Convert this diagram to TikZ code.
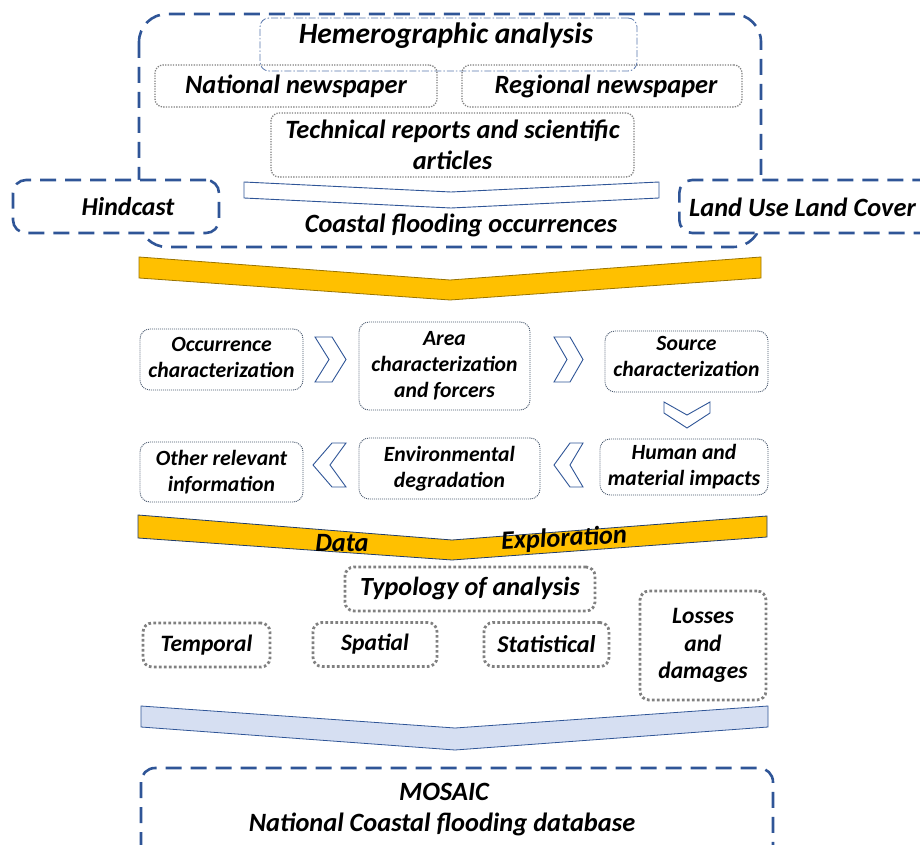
\documentclass[tikz,border=0pt]{standalone}
\usepackage{fontspec}
\setmainfont{Carlito}
\definecolor{dblue}{HTML}{2F5597}
\definecolor{gold}{HTML}{FFC000}
\definecolor{lblue}{HTML}{D6DFF2}
\definecolor{bgray}{HTML}{44546A}
\newcommand{\fsz}[2]{\fontsize{#1}{#2}\selectfont\bfseries\itshape}
\begin{document}
\begin{tikzpicture}[x=1pt,y=-1pt,
  dashbox/.style={draw=dblue, line width=2.6pt, dash pattern=on 16pt off 9pt, rounded corners=13pt, fill=white, inner sep=0pt},
  hemebox/.style={draw=dblue!80, line width=0.8pt, dash pattern=on 7pt off 2pt on 1.5pt off 2pt, rounded corners=9pt, inner sep=0pt},
  newsbox/.style={draw=gray, line width=1.3pt, dash pattern=on 1.3pt off 1.3pt, rounded corners=8pt, inner sep=0pt},
  stepbox/.style={draw=bgray, line width=0.9pt, dash pattern=on 1pt off 1pt, rounded corners=10pt, inner sep=0pt, align=center, font=\fsz{21.7}{26}},
  typbox/.style={draw=gray, line width=2.8pt, dash pattern=on 2.6pt off 2.4pt, rounded corners=9pt, inner sep=0pt, font=\fsz{23.5}{27.5}},
  chev/.style={draw=dblue, line width=0.9pt, fill=white, line join=miter},
  band/.style={draw=dblue!70!black, line width=0.8pt, line join=miter},
  txt/.style={inner sep=0pt, font=\fsz{26.4}{30}}
]
\useasboundingbox (0,0) rectangle (920,845);

% outer box
\draw[draw=dblue, line width=2.6pt, dash pattern=on 16pt off 9pt, rounded corners=28pt] (139,14) rectangle (761,247);

\node[hemebox, minimum width=377pt, minimum height=53pt] (heme) at (448.5,44.5) {};
\node[txt, font=\fsz{29.5}{32}] (hemet) at (446,36) {Hemerographic analysis};

\node[newsbox, minimum width=282pt, minimum height=42pt, font=\fsz{26.4}{30}] (nat) at (296,86) {National newspaper};
\node[newsbox, minimum width=280pt, minimum height=42pt, font=\fsz{26.4}{30}] (reg) at (602,86) {\hspace*{8pt}Regional newspaper};
\node[newsbox, minimum width=363pt, minimum height=64pt, font=\fsz{26.4}{31}, align=center] (tech) at (452.5,145) {Technical reports and scientific\\articles};

% white arrow
\draw[chev] (244,182) -- (451,192) -- (659,182) -- (659,198) -- (451,208) -- (244,198) -- cycle;
\node[txt] (cfo) at (461,225) {Coastal flooding occurrences};

\node[dashbox, minimum width=206pt, minimum height=53pt, font=\fsz{25.8}{30}] (hind) at (116,206.5) {\hspace*{24pt}Hindcast};
\node[dashbox, minimum width=262pt, minimum height=53pt, anchor=west] (lulc) at (678,206.5) {};
\node[txt, anchor=west] (lulct) at (689,207) {Land Use Land Cover};

% yellow band 1
\fill[gold] (139,257) -- (450,280) -- (761,257) -- (761,278) -- (450,300) -- (139,278) -- cycle;
\draw[band, draw=gold!60!black] (139,257) -- (450,280) -- (761,257) -- (761,278) -- (450,300) -- (139,278) -- cycle;

% step boxes
\node[stepbox, minimum width=163pt, minimum height=61pt] (occ) at (221.5,359.5) {};
\node[stepbox, draw=none] (occt) at (221.5,357.5) {Occurrence\\characterization};
\node[stepbox, minimum width=171pt, minimum height=88pt] (area) at (444.5,366) {Area\\characterization\\and forcers};
\node[stepbox, minimum width=163pt, minimum height=61pt] (src) at (686.5,361.5) {};
\node[stepbox, draw=none] (srct) at (686.5,356.5) {Source\\characterization};
\node[stepbox, minimum width=168pt, minimum height=56pt] (hum) at (684,467) {Human and\\material impacts};
\node[stepbox, minimum width=181pt, minimum height=61pt] (env) at (449.5,468.5) {Environmental\\degradation};
\node[stepbox, minimum width=163pt, minimum height=60pt] (oth) at (221.5,472) {Other relevant\\information};

% small chevrons
\draw[chev] (315,337) -- (332,337) -- (346,359.5) -- (332,382) -- (315,382) -- (329,359.5) -- cycle;
\draw[chev] (554,337) -- (570,337) -- (583,359.5) -- (570,382) -- (554,382) -- (567,359.5) -- cycle;
\draw[chev] (664,402) -- (687,415) -- (710,402) -- (710,413) -- (687,428) -- (664,413) -- cycle;
\draw[chev] (583,443) -- (570,443) -- (554,465) -- (570,487) -- (583,487) -- (570,465) -- cycle;
\draw[chev] (346,443) -- (332,443) -- (313,465) -- (332,487) -- (346,487) -- (330,465) -- cycle;

% yellow band 2
\fill[gold] (138,515) -- (452,540) -- (767,516) -- (767,537) -- (452,560) -- (138,538) -- cycle;
\draw[band] (138,515) -- (452,540) -- (767,516) -- (767,537) -- (452,560) -- (138,538) -- cycle;
\node[txt] (data) at (342,543) {Data};
\node[txt, rotate=3] (expl) at (564,539) {Exploration};

% typology
\node[typbox, minimum width=250pt, minimum height=44pt, font=\fsz{26.2}{30}] (typ) at (470,589) {Typology of analysis};
\node[typbox, minimum width=127pt, minimum height=44pt] (tem) at (206.5,645) {Temporal};
\node[typbox, minimum width=124pt, minimum height=44pt] (spa) at (375,644.5) {Spatial};
\node[typbox, minimum width=125pt, minimum height=44pt, font=\fsz{24.2}{28}] (sta) at (546.5,644.5) {Statistical};
\node[typbox, minimum width=126pt, minimum height=109pt, align=center, font=\fsz{23.5}{27.5}] (los) at (703,645.5) {Losses\\and\\damages};

% light blue band
\fill[lblue] (141,706) -- (455,728) -- (768,706) -- (768,727) -- (455,750) -- (141,727) -- cycle;
\draw[band, draw=dblue] (141,706) -- (455,728) -- (768,706) -- (768,727) -- (455,750) -- (141,727) -- cycle;

% MOSAIC
\draw[draw=dblue, line width=2.6pt, dash pattern=on 16pt off 9pt, rounded corners=14pt] (141,768) rectangle (773,860);
\node[txt] (mos) at (444,792) {MOSAIC};
\node[txt] (ncf) at (442,824) {National Coastal flooding database};
\end{tikzpicture}
\end{document}
